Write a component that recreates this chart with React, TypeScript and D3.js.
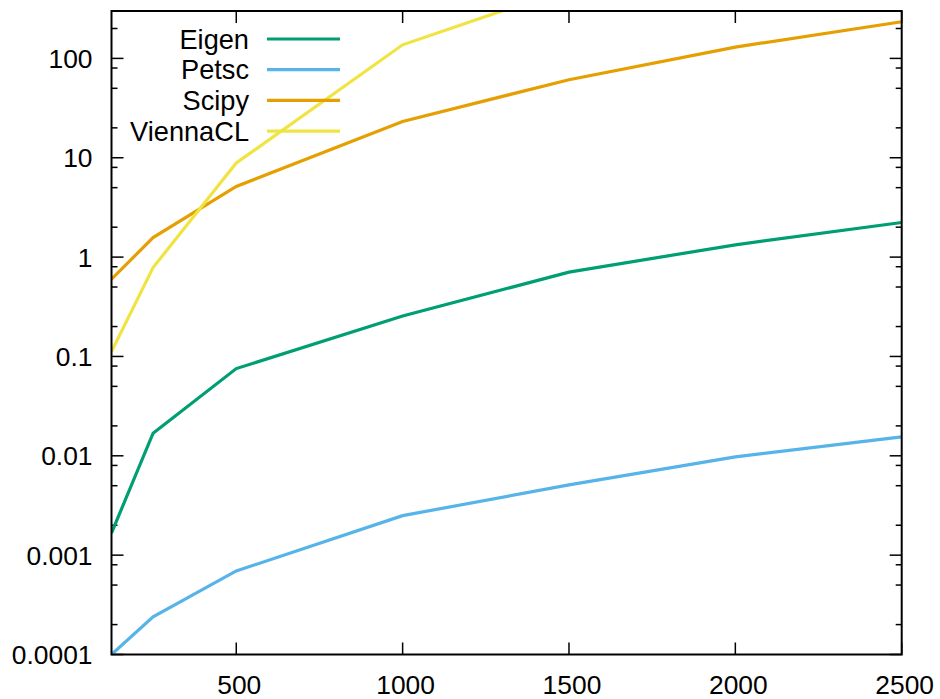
import React from "react";
import * as d3 from "d3";

const xValues = [125, 250, 500, 1000, 1500, 2000, 2500];
const eigen = [0.00167, 0.0169, 0.0755, 0.255, 0.706, 1.33, 2.23];
const petsc = [0.0001, 0.00024, 0.000693, 0.0025, 0.00509, 0.00975, 0.0155];
const scipy = [0.6, 1.57, 5.14, 23.2, 61, 130, 234];
const viennaX = [125, 250, 500, 1000, 1500];
const vienna = [0.112, 0.785, 8.85, 137, 510];

const seriesNames = ["Eigen", "Petsc", "Scipy", "ViennaCL"];
const seriesColors = ["#009e73", "#56b4e9", "#e69f00", "#f0e442"];

const xTicks = [500, 1000, 1500, 2000, 2500];
const yTicks = [0.0001, 0.001, 0.01, 0.1, 1, 10, 100];
const yTickLabels = ["0.0001", "0.001", "0.01", "0.1", "1", "10", "100"];
const minorMultipliers = [2, 5, 8];

const W = 940;
const H = 699;
const L = 111.5;
const R = 901.7;
const T = 11;
const B = 654.5;
const FONT = "'Liberation Sans', Arial, sans-serif";

export default function App() {
  const x = d3.scaleLinear().domain([125, 2500]).range([L, R]);
  const y = d3.scaleLog().domain([1e-4, 300]).range([B, T]);

  const data = [
    xValues.map((v, i) => [v, eigen[i]] as [number, number]),
    xValues.map((v, i) => [v, petsc[i]] as [number, number]),
    xValues.map((v, i) => [v, scipy[i]] as [number, number]),
    viennaX.map((v, i) => [v, vienna[i]] as [number, number]),
  ];

  const line = d3
    .line<[number, number]>()
    .x((d) => x(d[0]))
    .y((d) => y(d[1]));

  const minors: number[] = [];
  for (let e = -4; e <= 2; e++) {
    for (const m of minorMultipliers) {
      const v = m * Math.pow(10, e);
      if (v <= 300) minors.push(v);
    }
  }

  return (
    <svg
      width={W}
      height={H}
      style={{ position: "absolute", left: 0, top: 0, background: "#fff" }}
    >
      <defs>
        <clipPath id="plotclip">
          <rect x={L} y={T} width={R - L} height={B - T} />
        </clipPath>
      </defs>
      <rect x={0} y={0} width={W} height={H} fill="#fff" />

      {/* y ticks */}
      {yTicks.map((v, i) => (
        <g key={"yt" + i}>
          <line x1={L} x2={L + 12} y1={y(v)} y2={y(v)} stroke="#000" strokeWidth={1.5} />
          <line x1={R} x2={R - 12} y1={y(v)} y2={y(v)} stroke="#000" strokeWidth={1.5} />
          <text
            x={92.5}
            y={y(v)}
            dy="0.36em"
            textAnchor="end"
            fontFamily={FONT}
            fontSize={26.4}
            fill="#000"
          >
            {yTickLabels[i]}
          </text>
        </g>
      ))}
      {minors.map((v, i) => (
        <g key={"ym" + i}>
          <line x1={L} x2={L + 6} y1={y(v)} y2={y(v)} stroke="#000" strokeWidth={1.5} />
          <line x1={R} x2={R - 6} y1={y(v)} y2={y(v)} stroke="#000" strokeWidth={1.5} />
        </g>
      ))}

      {/* x ticks */}
      {xTicks.map((v, i) => (
        <g key={"xt" + i}>
          <line x1={x(v)} x2={x(v)} y1={B} y2={B - 12} stroke="#000" strokeWidth={1.5} />
          <line x1={x(v)} x2={x(v)} y1={T} y2={T + 12} stroke="#000" strokeWidth={1.5} />
          <text
            x={x(v) + 3}
            y={694}
            textAnchor="middle"
            fontFamily={FONT}
            fontSize={26.4}
            fill="#000"
          >
            {v}
          </text>
        </g>
      ))}

      {/* series */}
      <g clipPath="url(#plotclip)">
        {data.map((d, i) => (
          <path
            key={"s" + i}
            d={line(d) || ""}
            fill="none"
            stroke={seriesColors[i]}
            strokeWidth={3.2}
            strokeLinejoin="miter"
          />
        ))}
      </g>

      {/* frame */}
      <rect x={L} y={T} width={R - L} height={B - T} fill="none" stroke="#000" strokeWidth={2} />

      {/* legend */}
      {seriesNames.map((name, i) => {
        const ly = 39 + i * 30.7;
        return (
          <g key={"lg" + i}>
            <text
              x={249}
              y={ly}
              dy="0.36em"
              textAnchor="end"
              fontFamily={FONT}
              fontSize={27.2}
              fill="#000"
            >
              {name}
            </text>
            <line x1={267} x2={340} y1={ly} y2={ly} stroke={seriesColors[i]} strokeWidth={3.2} />
          </g>
        );
      })}
    </svg>
  );
}
